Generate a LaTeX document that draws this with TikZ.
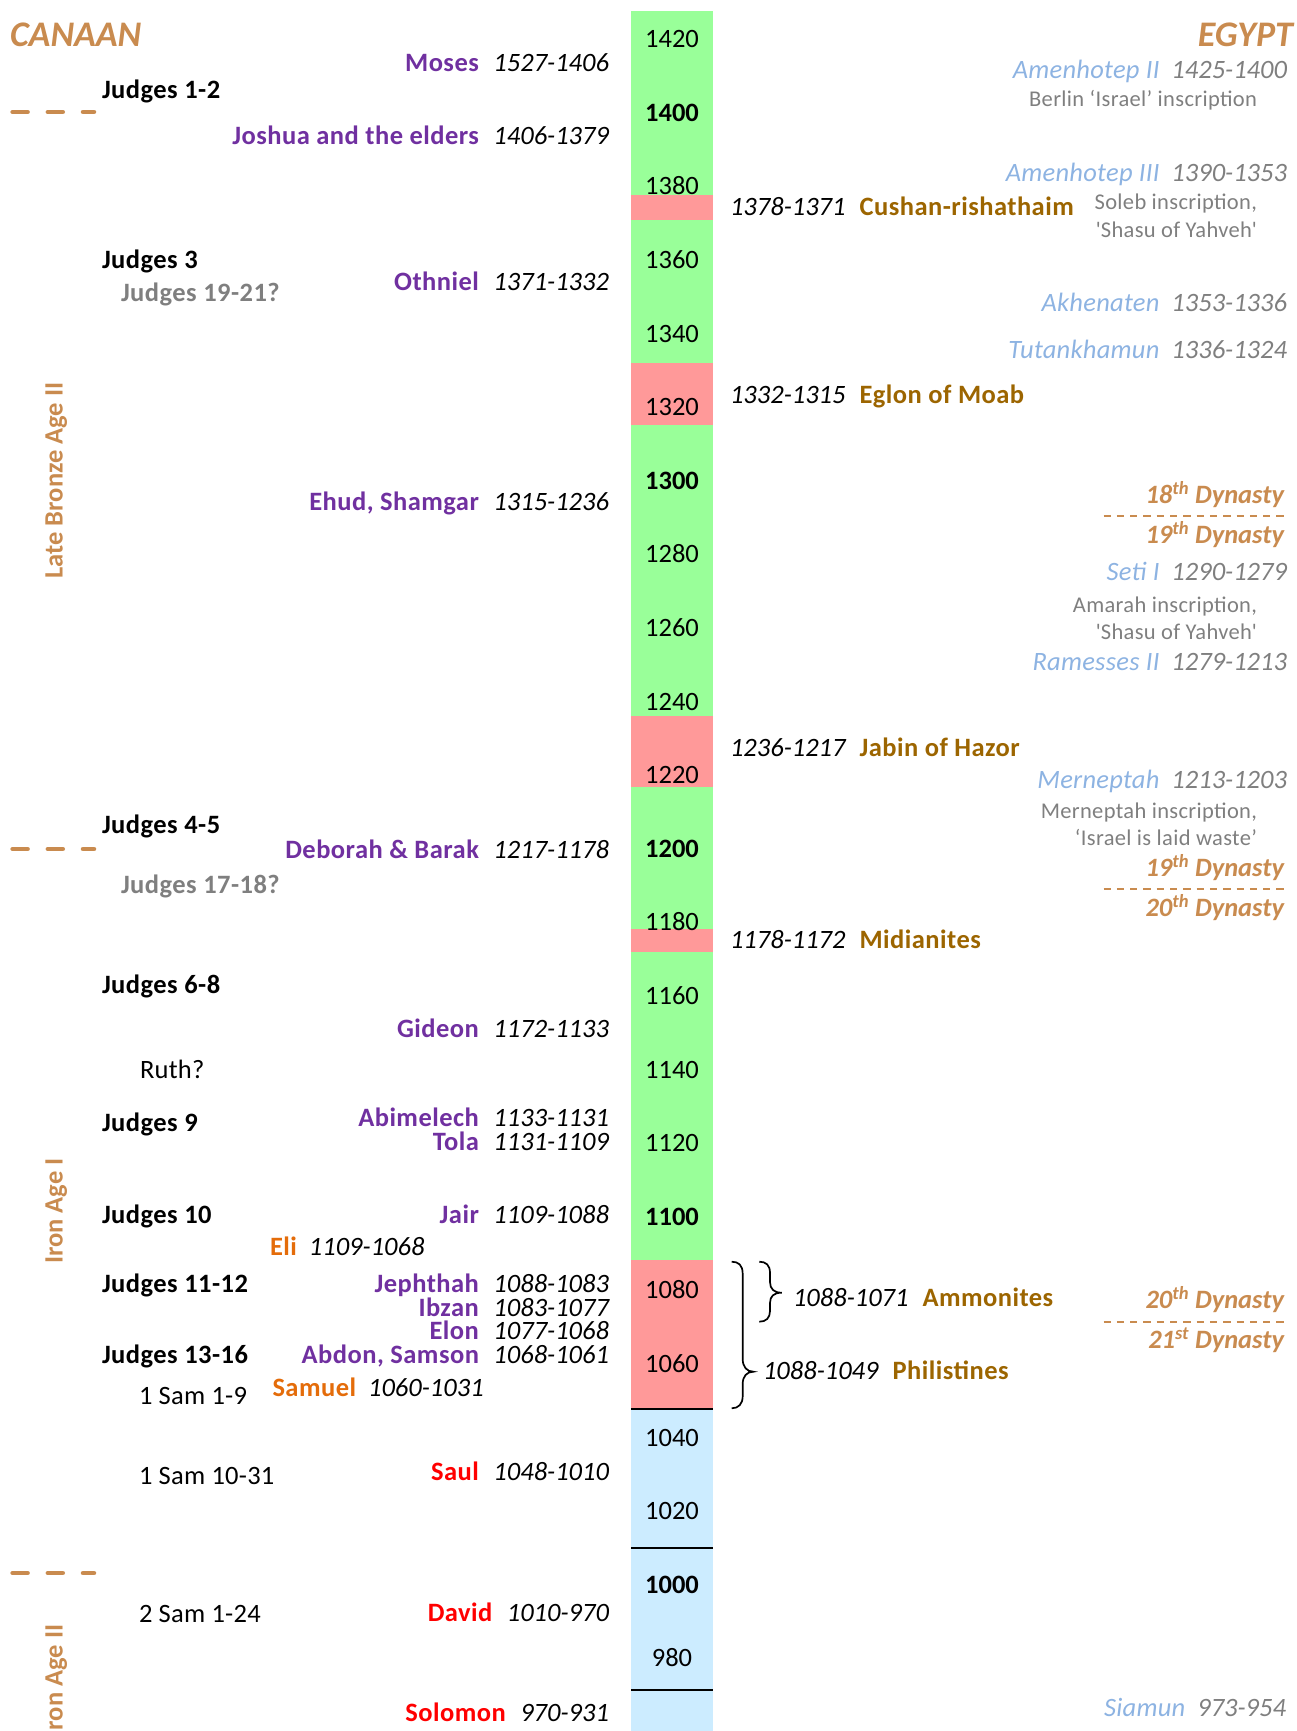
\documentclass[tikz,border=0pt]{standalone}
\usepackage{fontspec}
\setmainfont{Carlito}
\newfontfamily\spbf[LetterSpace=1.8]{Carlito}
\newfontfamily\spit[LetterSpace=1.0]{Carlito}
\newfontfamily\spin[LetterSpace=1.5]{Carlito}
\definecolor{grn}{HTML}{99FF99}
\definecolor{pnk}{HTML}{FF9999}
\definecolor{lbl}{HTML}{CCECFF}
\definecolor{purp}{HTML}{7030A0}
\definecolor{enemy}{HTML}{9C6500}
\definecolor{orng}{HTML}{E46C0A}
\definecolor{tanc}{HTML}{C98B4F}
\definecolor{phar}{HTML}{8DB3E2}
\definecolor{grayt}{HTML}{7F7F7F}
\tikzset{
  every node/.style={inner sep=0pt, outer sep=0pt},
  jname/.style={font=\fontsize{26.5}{30}\selectfont\spbf\bfseries, text=purp, anchor=base east},
  ldate/.style={font=\fontsize{26.5}{30}\selectfont\itshape, anchor=base east},
  bookb/.style={font=\fontsize{26.5}{30}\selectfont\spbf\bfseries, anchor=base west},
  bookq/.style={font=\fontsize{26.5}{30}\selectfont\spbf\bfseries, text=grayt, anchor=base west},
  bookr/.style={font=\fontsize{26.5}{30}\selectfont\spit, anchor=base west},
  yrlab/.style={font=\fontsize{26.5}{30}\selectfont, anchor=base},
  yrbold/.style={font=\fontsize{26.5}{30}\selectfont\bfseries, anchor=base},
  phname/.style={font=\fontsize{26.5}{30}\selectfont\spit\itshape, text=phar, anchor=base east},
  phdate/.style={font=\fontsize{26.5}{30}\selectfont\itshape, text=grayt, anchor=base east},
  insc/.style={font=\fontsize{22.5}{26}\selectfont\spin, text=grayt, anchor=base east},
  endate/.style={font=\fontsize{26.5}{30}\selectfont\itshape, anchor=base west},
  enname/.style={font=\fontsize{26.5}{30}\selectfont\spbf\bfseries, text=enemy, anchor=base west},
  dyn/.style={font=\fontsize{26.5}{30}\selectfont\bfseries\itshape, text=tanc, anchor=base east},
  age/.style={font=\fontsize{26.5}{30}\selectfont\bfseries, text=tanc, rotate=90, anchor=base},
  agedash/.style={draw=tanc, line width=4.7pt, line cap=round, dash pattern=on 14.8pt off 20.4pt},
  dyndash/.style={draw=tanc, line width=2.6pt, dash pattern=on 7.3pt off 6pt},
  brace/.style={draw=black, line width=1.7pt},
  rule/.style={draw=black, line width=2pt}
}
\begin{document}
\begin{tikzpicture}[x=1pt,y=-1pt]
\useasboundingbox (0,0) rectangle (1297,1731);
\clip (0,0) rectangle (1297,1731);
% ---------- column ----------
\fill[grn] (631,11) rectangle (713,195);
\fill[pnk] (631,195) rectangle (713,220);
\fill[grn] (631,220) rectangle (713,362.7);
\fill[pnk] (631,362.7) rectangle (713,425);
\fill[grn] (631,425) rectangle (713,716);
\fill[pnk] (631,716) rectangle (713,786.7);
\fill[grn] (631,786.7) rectangle (713,929.3);
\fill[pnk] (631,929.3) rectangle (713,951.7);
\fill[grn] (631,951.7) rectangle (713,1260.3);
\fill[pnk] (631,1260.3) rectangle (713,1408.9);
\fill[lbl] (631,1408.9) rectangle (713,1731);
\coordinate (r1a) at (631,1408.9); \coordinate (r1b) at (713,1408.9);
\coordinate (r2a) at (631,1547.7); \coordinate (r2b) at (713,1547.7);
\coordinate (r3a) at (631,1690.3); \coordinate (r3b) at (713,1690.3);
\draw[rule] (r1a) -- (r1b);
\draw[rule] (r2a) -- (r2b);
\draw[rule] (r3a) -- (r3b);
\foreach \yr in {1420,1380,1360,1340,1320,1280,1260,1240,1220,1180,1160,1140,1120,1080,1060,1040,1020,980}
  \node[yrlab] (yl\yr) at (672,{47.7+3.68*(1420-\yr)}) {\yr};
\foreach \yr in {1400,1300,1200,1100,1000}
  \node[yrbold] (yl\yr) at (672,{47.7+3.68*(1420-\yr)}) {\yr};
% ---------- headings ----------
\node[font=\fontsize{36}{40}\selectfont\bfseries\itshape, text=tanc, anchor=base west] (canaan) at (10,46.4) {CANAAN};
\node[font=\fontsize{36}{40}\selectfont\bfseries\itshape, text=tanc, anchor=base east] (egypt) at (1293,46.4) {EGYPT};
% ---------- age labels ----------
\node[age] (lba) at (62.5,480.5) {Late Bronze Age II};
\node[age] (ia1) at (62.5,1211.3) {Iron Age I};
\node[age] (ia2) at (62.5,1681) {Iron Age II};
\coordinate (da1) at (12.7,112); \coordinate (db1) at (93.9,112);
\coordinate (da2) at (12.7,849); \coordinate (db2) at (93.9,849);
\coordinate (da3) at (12.7,1573); \coordinate (db3) at (93.9,1573);
\draw[agedash] (da1) -- (db1);
\draw[agedash] (da2) -- (db2);
\draw[agedash] (da3) -- (db3);
% ---------- books ----------
\node[bookb] (b1) at (102,98.4) {Judges 1-2};
\node[bookb] (b3) at (102,268.4) {Judges 3};
\node[bookq] (b19) at (121,301.7) {Judges 19-21?};
\node[bookb] (b4) at (102,833.4) {Judges 4-5};
\node[bookq] (b17) at (121,893.4) {Judges 17-18?};
\node[bookb] (b6) at (102,993.4) {Judges 6-8};
\node[bookr] (bru) at (140,1078.4) {Ruth?};
\node[bookb] (b9) at (102,1131.7) {Judges 9};
\node[bookb] (b10) at (102,1223.6) {Judges 10};
\node[bookb] (b11) at (102,1292.4) {Judges 11-12};
\node[bookb] (b13) at (102,1363.4) {Judges 13-16};
\node[bookr] (bs1) at (139,1404.1) {1 Sam 1-9};
\node[bookr] (bs10) at (139,1484.4) {1 Sam 10-31};
\node[bookr] (bs2) at (139,1622.2) {2 Sam 1-24};
% ---------- judges & kings ----------
\node[ldate] (dMo) at (609,71.7) {1527-1406};
\node[jname] (nMo) at ([xshift=-14.5pt]dMo.base west) {Moses};
\node[ldate] (dJo) at (609,144.4) {1406-1379};
\node[jname] (nJo) at ([xshift=-14.5pt]dJo.base west) {Joshua and the elders};
\node[ldate] (dOt) at (609,290.1) {1371-1332};
\node[jname] (nOt) at ([xshift=-14.5pt]dOt.base west) {Othniel};
\node[ldate] (dEh) at (609,510.1) {1315-1236};
\node[jname] (nEh) at ([xshift=-14.5pt]dEh.base west) {Ehud, Shamgar};
\node[ldate] (dDe) at (609,858.4) {1217-1178};
\node[jname] (nDe) at ([xshift=-14.5pt]dDe.base west) {Deborah \& Barak};
\node[ldate] (dGi) at (609,1037.7) {1172-1133};
\node[jname] (nGi) at ([xshift=-14.5pt]dGi.base west) {Gideon};
\node[ldate] (dAb) at (609,1126.7) {1133-1131};
\node[jname] (nAb) at ([xshift=-14.5pt]dAb.base west) {Abimelech};
\node[ldate] (dTo) at (609,1150.1) {1131-1109};
\node[jname] (nTo) at ([xshift=-14.5pt]dTo.base west) {Tola};
\node[ldate] (dJa) at (609,1223.6) {1109-1088};
\node[jname] (nJa) at ([xshift=-14.5pt]dJa.base west) {Jair};
\node[ldate] (dJe) at (609,1292.4) {1088-1083};
\node[jname] (nJe) at ([xshift=-14.5pt]dJe.base west) {Jephthah};
\node[ldate] (dIb) at (609,1316.8) {1083-1077};
\node[jname] (nIb) at ([xshift=-14.5pt]dIb.base west) {Ibzan};
\node[ldate] (dEl) at (609,1339.8) {1077-1068};
\node[jname] (nEl) at ([xshift=-14.5pt]dEl.base west) {Elon};
\node[ldate] (dAS) at (609,1363.4) {1068-1061};
\node[jname] (nAS) at ([xshift=-14.5pt]dAS.base west) {Abdon, Samson};
\node[ldate] (dSa) at (609,1480.3) {1048-1010};
\node[jname, text=red] (nSa) at ([xshift=-14.5pt]dSa.base west) {Saul};
\node[ldate] (dDa) at (609,1621.4) {1010-970};
\node[jname, text=red] (nDa) at ([xshift=-14.5pt]dDa.base west) {David};
\node[ldate] (dSo) at (609,1721.4) {970-931};
\node[jname, text=red] (nSo) at ([xshift=-14.5pt]dSo.base west) {Solomon};
\node[jname, text=orng, anchor=base west] (nEli) at (270,1255.8) {Eli};
\node[ldate, anchor=base west] (dEli) at ([xshift=12pt]nEli.base east) {1109-1068};
\node[jname, text=orng, anchor=base west] (nSm) at (272.5,1396.4) {Samuel};
\node[ldate, anchor=base west] (dSm) at ([xshift=12pt]nSm.base east) {1060-1031};
% ---------- oppressors ----------
\node[endate] (dCu) at (730,215.1) {1378-1371};
\node[enname] (nCu) at ([xshift=14pt]dCu.base east) {Cushan-rishathaim};
\node[endate] (dEg) at (730,403.4) {1332-1315};
\node[enname] (nEg) at ([xshift=14pt]dEg.base east) {Eglon of Moab};
\node[endate] (dJb) at (730,756.7) {1236-1217};
\node[enname] (nJb) at ([xshift=14pt]dJb.base east) {Jabin of Hazor};
\node[endate] (dMi) at (730,948.4) {1178-1172};
\node[enname] (nMi) at ([xshift=14pt]dMi.base east) {Midianites};
\node[endate] (dAm) at (793,1306.6) {1088-1071};
\node[enname] (nAm) at ([xshift=14pt]dAm.base east) {Ammonites};
\node[endate] (dPh) at (763,1379.4) {1088-1049};
\node[enname] (nPh) at ([xshift=14pt]dPh.base east) {Philistines};
\draw[brace] (731.7,1261.7) .. controls (738.5,1261.7) and (742.7,1265) .. (742.7,1274)
  -- (742.7,1359) .. controls (742.7,1367) and (747,1371.7) .. (753.3,1371.7)
  .. controls (747,1371.7) and (742.7,1376) .. (742.7,1384)
  -- (742.7,1396) .. controls (742.7,1404) and (738.5,1408.3) .. (731.7,1408.3);
\draw[brace] (759.3,1261.7) .. controls (766,1261.7) and (770,1265) .. (770,1273)
  -- (770,1282) .. controls (770,1289) and (774,1292.7) .. (781.7,1292.7)
  .. controls (774,1292.7) and (770,1296) .. (770,1303)
  -- (770,1311) .. controls (770,1318) and (766,1321.7) .. (759.3,1321.7);
% ---------- pharaohs ----------
\node[phdate] (pA2) at (1287,78.4) {1425-1400};
\node[phname] (nA2) at ([xshift=-12pt]pA2.base west) {Amenhotep II};
\node[insc] (iBe) at (1257,106.4) {Berlin ‘Israel’ inscription};
\node[phdate] (pA3) at (1287,181.7) {1390-1353};
\node[phname] (nA3) at ([xshift=-12pt]pA3.base west) {Amenhotep III};
\node[insc] (iSo1) at (1257,209.8) {Soleb inscription,};
\node[insc] (iSo2) at (1257,237.1) {\textquotesingle Shasu of Yahveh\textquotesingle};
\node[phdate] (pAk) at (1287,311.7) {1353-1336};
\node[phname] (nAk) at ([xshift=-12pt]pAk.base west) {Akhenaten};
\node[phdate] (pTu) at (1287,358.4) {1336-1324};
\node[phname] (nTu) at ([xshift=-12pt]pTu.base west) {Tutankhamun};
\node[dyn] (dy18) at (1284,503.4) {18\textsuperscript{th} Dynasty};
\coordinate (dla1) at (1103.5,516); \coordinate (dlb1) at (1284,516);
\draw[dyndash] (dla1) -- (dlb1);
\node[dyn] (dy19a) at (1284,543.4) {19\textsuperscript{th} Dynasty};
\node[phdate] (pSe) at (1287,580.7) {1290-1279};
\node[phname] (nSe) at ([xshift=-12pt]pSe.base west) {Seti I};
\node[insc] (iAm1) at (1257,612.1) {Amarah inscription,};
\node[insc] (iAm2) at (1257,639.4) {\textquotesingle Shasu of Yahveh\textquotesingle};
\node[phdate] (pRa) at (1287,670.1) {1279-1213};
\node[phname] (nRa) at ([xshift=-12pt]pRa.base west) {Ramesses II};
\node[phdate] (pMe) at (1287,788.4) {1213-1203};
\node[phname] (nMe) at ([xshift=-12pt]pMe.base west) {Merneptah};
\node[insc] (iMe1) at (1257,818.8) {Merneptah inscription,};
\node[insc] (iMe2) at (1257,845.4) {‘Israel is laid waste’};
\node[dyn] (dy19b) at (1284,876.7) {19\textsuperscript{th} Dynasty};
\coordinate (dla2) at (1103.5,889); \coordinate (dlb2) at (1284,889);
\draw[dyndash] (dla2) -- (dlb2);
\node[dyn] (dy20a) at (1284,916.1) {20\textsuperscript{th} Dynasty};
\node[dyn] (dy20b) at (1284,1308.4) {20\textsuperscript{th} Dynasty};
\coordinate (dla3) at (1103.5,1322); \coordinate (dlb3) at (1284,1322);
\draw[dyndash] (dla3) -- (dlb3);
\node[dyn] (dy21) at (1284,1348.9) {21\textsuperscript{st} Dynasty};
\node[phdate] (pSi) at (1286,1716.4) {973-954};
\node[phname] (nSi) at ([xshift=-12pt]pSi.base west) {Siamun};
\end{tikzpicture}
\end{document}
